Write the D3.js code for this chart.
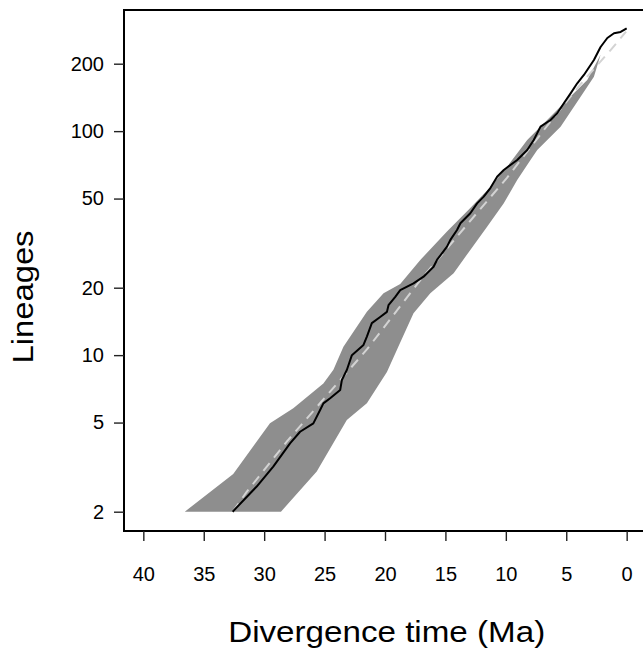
<!DOCTYPE html>
<html>
<head>
<meta charset="utf-8">
<script src="https://cdn.jsdelivr.net/npm/d3@7"></script>
<style>
  html, body { margin: 0; padding: 0; background: #fff; }
  svg { display: block; }
  text { font-family: "Liberation Sans", Arial, Helvetica, sans-serif; fill: #000; }
</style>
</head>
<body>
<svg id="chart" width="643" height="652"></svg>
<script>
// ---- Data (times in Ma, lineages counts) ----
const xTicks = [40, 35, 30, 25, 20, 15, 10, 5, 0];
const yTicks = [2, 5, 10, 20, 50, 100, 200];

// Observed lineage-through-time curve
const obsTime = [32.61, 30.62, 29.25, 27.86, 27.03, 25.93, 25.37, 25.10, 24.54, 23.71, 23.57, 23.16,
  22.74, 21.78, 21.50, 21.09, 20.40, 19.84, 19.71, 19.15, 18.74, 17.64, 16.81, 15.98, 15.70, 14.87,
  14.59, 14.04, 13.76, 12.94, 12.38, 11.83, 11.28, 10.72, 10.17, 9.06, 8.23, 7.69, 7.13, 6.30, 5.75,
  5.20, 4.64, 4.09, 3.54, 2.71, 2.16, 1.60, 1.05, 0.50, 0.0];
const obsN = [2, 2.59, 3.18, 4.04, 4.55, 4.96, 5.69, 6.09, 6.42, 6.99, 7.74, 8.58,
  10.0, 11.1, 12.1, 13.9, 14.8, 15.6, 16.7, 18.2, 19.5, 20.9, 22.4, 24.8, 26.6, 30.5,
  32.7, 36.2, 38.8, 43.0, 47.6, 51.0, 55.7, 62.6, 67.1, 74.3, 82.4, 91.3, 104.7, 112.1, 120.1,
  133.1, 147.5, 163.5, 178.1, 207.8, 237.5, 260.5, 273.4, 277.1, 287.7];

// Expected (median of simulations) curve, dashed
const expTime = [32.6, 31.45, 28.13, 23.7, 21.5, 17.08, 12.1, 9.89, 6.5, 3.81, 1.33, 0.05];
const expN = [2, 2.45, 4.11, 7.75, 10.6, 21.6, 45, 62, 107, 162, 230, 278];

// 95% envelope: upper edge (more lineages) and lower edge (fewer lineages)
const bandUpperTime = [36.57, 32.56, 29.52, 27.59, 25.1, 24.27, 23.44, 21.5, 20.12, 18.74, 17.08, 14.87,
  12.94, 11.28, 9.89, 8.23, 6.58, 4.92, 3.26, 2.16];
const bandUpperN = [2, 2.95, 4.96, 5.79, 7.48, 8.6, 10.9, 15.6, 18.9, 20.8, 26.6, 35.6,
  45.4, 56.3, 69.4, 91.3, 112, 138, 169, 219];
const bandLowerTime = [28.61, 25.65, 23.16, 21.5, 19.84, 18.74, 17.64, 16.25, 14.32, 12.94, 11.55, 10.17,
  9.06, 7.96, 7.40, 5.47, 3.81, 2.71, 2.16];
const bandLowerN = [2, 3.02, 5.13, 6.1, 8.4, 11.4, 15.4, 18.9, 23.2, 29.5, 37.4, 47.6,
  60.5, 74.3, 82.4, 104.7, 142.5, 175, 219];

// ---- Layout ----
const svg = d3.select("#chart");
const box = { left: 124, right: 646, top: 10, bottom: 531 };

const x = d3.scaleLinear().domain([41.6, -1.6]).range([box.left, box.right]);
const y = d3.scaleLog().domain([2, 200]).range([511.7, 63.7]);

const line = d3.line().x(d => x(d[0])).y(d => y(d[1]));

// Band polygon
const bandPts = bandUpperTime.map((t, i) => [t, bandUpperN[i]])
  .concat(bandLowerTime.map((t, i) => [t, bandLowerN[i]]).reverse());
svg.append("path")
  .attr("d", line(bandPts) + "Z")
  .attr("fill", "#8e8e8e")
  .attr("stroke", "none");

// Expected dashed line
svg.append("path")
  .attr("d", line(expTime.map((t, i) => [t, expN[i]])))
  .attr("fill", "none")
  .attr("stroke", "#d3d3d3")
  .attr("stroke-width", 2)
  .attr("stroke-dasharray", "10,7");

// Observed line
svg.append("path")
  .attr("d", line(obsTime.map((t, i) => [t, obsN[i]])))
  .attr("fill", "none")
  .attr("stroke", "#000")
  .attr("stroke-width", 2)
  .attr("stroke-linejoin", "round");

// Box (left, top, bottom; right edge falls outside the frame)
svg.append("path")
  .attr("d", `M${box.right},${box.top}H${box.left}V${box.bottom}H${box.right}`)
  .attr("fill", "none")
  .attr("stroke", "#000")
  .attr("stroke-width", 2);

// Y axis
const yAxis = d3.axisLeft(y).tickValues(yTicks).tickFormat(d3.format("d")).tickSize(10).tickPadding(10);
const gy = svg.append("g").attr("transform", `translate(${box.left},0)`).call(yAxis);
gy.select(".domain").remove();
gy.selectAll(".tick line").attr("stroke", "#222").attr("stroke-width", 1.4);
gy.selectAll(".tick text").attr("font-size", 20).attr("font-family", null).attr("fill", "#000");

// X axis
const xAxis = d3.axisBottom(x).tickValues(xTicks).tickFormat(d3.format("d")).tickSize(10).tickPadding(26);
const gx = svg.append("g").attr("transform", `translate(0,${box.bottom})`).call(xAxis);
gx.select(".domain").remove();
gx.selectAll(".tick line").attr("stroke", "#222").attr("stroke-width", 1.4);
gx.selectAll(".tick text").attr("font-size", 20).attr("font-family", null).attr("fill", "#000");

// Axis titles
svg.append("text")
  .attr("x", 386.7).attr("y", 642)
  .attr("text-anchor", "middle")
  .attr("font-size", 30)
  .attr("textLength", 317)
  .attr("lengthAdjust", "spacingAndGlyphs")
  .text("Divergence time (Ma)");

svg.append("text")
  .attr("transform", "translate(33,297) rotate(-90)")
  .attr("text-anchor", "middle")
  .attr("font-size", 30)
  .attr("textLength", 133)
  .attr("lengthAdjust", "spacingAndGlyphs")
  .text("Lineages");
</script>
</body>
</html>
